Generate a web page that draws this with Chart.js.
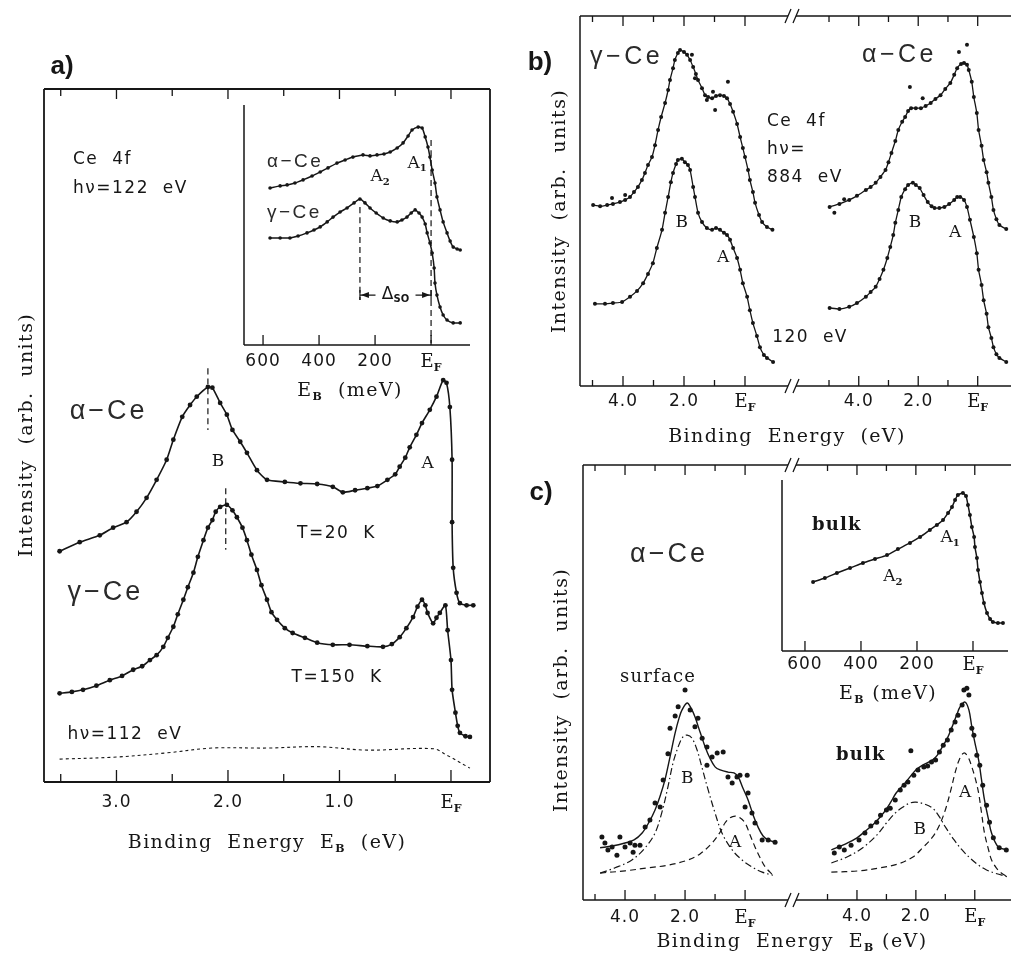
<!DOCTYPE html>
<html>
<head>
<meta charset="utf-8">
<title>Ce 4f photoemission spectra</title>
<script src="https://cdn.jsdelivr.net/npm/chart.js@4.4.1/dist/chart.umd.min.js"></script>
<style>
  body { margin: 0; background: #fff; }
  #page { position: relative; width: 1015px; height: 955px; background: #fff; }
  #page canvas { position: absolute; left: 0; top: 0; }
</style>
</head>
<body>
<div id="page">
  <canvas id="panelA" width="1015" height="955"></canvas>
  <canvas id="insetA" width="1015" height="955"></canvas>
  <canvas id="panelBL" width="1015" height="955"></canvas>
  <canvas id="panelBR" width="1015" height="955"></canvas>
  <canvas id="panelCL" width="1015" height="955"></canvas>
  <canvas id="panelCR" width="1015" height="955"></canvas>
  <canvas id="insetC" width="1015" height="955"></canvas>
</div>
<script>
// ---- panel a: Ce 4f, hv = 122 eV (binding energy in eV, intensity arb.)
const aAlphaE = [3.51,3.33,3.15,3.03,2.91,2.82,2.73,2.64,2.55,2.49,2.41,2.34,2.28,2.18,2.14,2.07,2.01,1.96,1.89,1.83,1.74,1.65,1.49,1.35,1.20,1.06,0.97,0.86,0.75,0.66,0.57,0.50,0.46,0.41,0.37,0.31,0.26,0.19,0.13,0.07,0.04,0.01,-0.01,-0.01,-0.02,-0.05,-0.08,-0.14,-0.20];
const aAlphaI = [33.3,34.6,35.6,36.7,37.5,39.0,41.0,43.6,46.5,49.4,52.7,54.4,55.6,57.0,56.9,54.7,53.0,50.8,49.1,47.5,45.0,43.6,43.3,43.1,43.0,42.6,41.8,42.1,42.4,42.7,43.6,44.4,45.5,46.8,48.3,50.1,51.8,53.7,55.6,58.0,57.6,54.1,46.5,37.5,30.9,27.3,25.8,25.5,25.5];
const aGammaE = [3.51,3.40,3.30,3.18,3.06,2.95,2.85,2.77,2.70,2.64,2.58,2.54,2.49,2.45,2.40,2.36,2.31,2.27,2.22,2.18,2.14,2.11,2.07,2.01,1.96,1.92,1.87,1.83,1.79,1.74,1.70,1.65,1.61,1.56,1.49,1.42,1.31,1.20,1.06,0.91,0.75,0.61,0.53,0.46,0.40,0.34,0.30,0.26,0.23,0.21,0.16,0.13,0.10,0.05,0.03,0.00,-0.01,-0.04,-0.06,-0.08,-0.13,-0.17];
const aGammaI = [12.8,13.0,13.3,13.9,14.7,15.3,16.2,16.7,17.6,18.3,19.5,20.8,22.4,24.2,26.3,28.1,30.2,32.5,34.9,36.7,37.8,39.0,39.7,40.0,39.2,38.2,36.7,34.9,32.8,30.6,28.4,26.3,24.5,23.4,22.2,21.5,20.8,20.1,19.8,19.8,19.6,19.5,19.9,20.9,22.2,23.8,25.3,26.3,25.5,24.4,22.9,23.7,24.4,25.5,21.9,17.6,13.3,10.0,8.1,7.1,6.6,6.5];
const aBgE = [3.51,3.00,2.55,2.14,1.65,1.20,0.75,0.16,0.04,-0.17];
const aBgI = [3.3,3.6,4.2,4.9,4.9,5.1,4.6,4.8,3.9,2.0];
const aPeakB = [2.18, 2.02];
const aTickMajor = [3, 2, 1, 0];
const aTickMinor = [3.5, 2.5, 1.5, 0.5];
const aTickText = ['3.0', '2.0', '1.0', 'E_F'];

// ---- panel a inset (binding energy in meV)
const iaAlphaE = [575,539,514,486,457,425,396,368,336,307,279,243,218,193,168,146,121,100,82,68,46,32,21,11,4,-4,-14,-21,-32,-43,-57,-68,-79,-93,-104];
const iaAlphaI = [65.4,66.3,66.7,67.5,68.8,70.4,72.1,73.8,75.8,77.1,78.3,79.2,78.8,79.2,79.6,80.4,82.1,84.2,87.1,89.6,90.8,90.4,86.7,82.5,78.3,72.9,67.5,61.7,56.3,51.3,46.7,43.3,40.8,40.0,39.6];
const iaGammaE = [575,539,504,475,443,418,396,371,350,325,300,275,254,236,218,196,171,146,121,104,86,71,57,43,32,21,14,4,-4,-11,-14,-21,-32,-43,-57,-79,-104];
const iaGammaI = [44.6,44.6,44.6,45.4,46.7,47.9,49.2,51.3,53.3,55.4,57.1,59.2,60.8,59.2,57.1,55.0,52.9,51.7,51.3,52.1,53.3,55.0,56.3,55.0,53.3,50.4,46.7,42.5,38.3,32.1,25.8,20.8,15.8,12.5,10.4,9.2,9.2];
const iaA2 = 254;
const iaTicks = [600, 400, 200, 0];
const iaTickText = ['600', '400', '200', 'E_F'];

// ---- panel b: gamma-Ce (left) and alpha-Ce (right), hv = 884 eV and 120 eV
const bGam884E = [4.98,4.75,4.52,4.33,4.10,3.93,3.77,3.64,3.51,3.38,3.28,3.18,3.05,2.95,2.85,2.75,2.62,2.52,2.46,2.36,2.30,2.20,2.13,2.00,1.90,1.80,1.70,1.61,1.54,1.41,1.31,1.21,1.08,0.95,0.82,0.69,0.59,0.49,0.39,0.26,0.16,0.07,0.00,-0.10,-0.16,-0.26,-0.33,-0.46,-0.56,-0.72,-0.90];
const bGam884I = [48.9,48.6,48.9,49.2,49.7,50.3,51.1,52.4,53.8,55.7,57.6,59.7,61.9,65.1,69.2,72.7,76.5,80.0,82.7,85.9,88.1,90.0,90.8,90.3,89.5,88.1,86.2,84.3,82.7,80.5,78.6,78.1,77.8,78.4,78.6,78.4,77.8,76.2,74.1,70.8,67.3,64.3,61.9,58.4,55.7,52.4,49.5,46.2,44.3,43.0,42.2];
const bGam884OffE = [4.36,3.93,1.74,1.64,1.25,1.05,0.98,0.56];
const bGam884OffI = [50.8,51.6,89.5,83.2,77.3,79.5,74.6,82.2];
const bGam120E = [4.92,4.59,4.33,4.03,3.77,3.54,3.34,3.18,3.02,2.89,2.72,2.62,2.52,2.43,2.36,2.26,2.20,2.07,1.97,1.87,1.80,1.70,1.64,1.54,1.41,1.25,1.08,0.95,0.82,0.69,0.59,0.49,0.39,0.26,0.16,0.07,-0.07,-0.16,-0.26,-0.39,-0.49,-0.62,-0.72,-0.92];
const bGam120I = [22.2,22.2,22.4,22.7,24.1,25.7,27.8,30.3,33.2,37.3,42.2,46.8,51.1,55.1,57.6,60.0,61.1,61.4,60.5,59.7,58.4,53.8,51.1,46.8,44.3,42.7,42.2,42.7,42.2,41.4,40.8,39.5,37.3,34.6,31.4,27.8,24.1,20.5,17.0,13.5,10.5,8.4,7.6,6.5];
const bAlp884E = [4.98,4.65,4.32,4.06,3.76,3.60,3.43,3.27,3.10,3.00,2.90,2.77,2.67,2.54,2.44,2.34,2.24,2.08,1.91,1.75,1.58,1.42,1.25,1.09,0.92,0.79,0.69,0.56,0.46,0.36,0.30,0.20,0.13,0.03,-0.03,-0.13,-0.20,-0.30,-0.36,-0.46,-0.53,-0.63,-0.73,-0.96];
const bAlp884I = [48.4,49.2,50.3,51.4,53.0,53.8,54.9,56.5,58.4,60.5,63.0,66.2,69.2,71.4,72.7,74.3,75.1,75.1,75.1,75.7,76.5,77.6,78.6,80.3,81.9,84.1,85.9,87.0,87.3,86.8,85.4,82.2,78.1,73.8,69.2,64.9,61.1,57.8,54.9,51.1,47.6,45.1,43.5,42.4];
const bAlp884OffE = [4.82,4.49,2.28,1.85,0.63,0.36];
const bAlp884OffI = [46.8,50.5,80.8,77.8,90.3,92.2];
const bAlp120E = [4.98,4.65,4.32,4.06,3.76,3.60,3.43,3.30,3.17,3.04,2.94,2.84,2.77,2.67,2.57,2.44,2.34,2.18,2.08,1.95,1.82,1.68,1.55,1.45,1.29,1.12,0.96,0.79,0.69,0.59,0.46,0.36,0.26,0.13,0.03,-0.03,-0.13,-0.20,-0.30,-0.36,-0.46,-0.53,-0.63,-0.73,-0.96];
const bAlp120I = [21.1,20.8,21.4,22.4,24.1,25.4,26.8,28.9,31.4,34.6,37.6,40.8,44.1,47.6,51.1,53.2,54.3,54.9,54.3,53.5,51.6,49.7,48.6,48.1,48.1,48.4,49.2,50.3,51.1,51.1,50.3,48.4,44.9,40.3,35.9,31.4,27.3,23.2,19.5,15.9,13.0,10.5,8.6,7.6,6.5];
const bTickMajor = [4, 2, 0];
const bTickMinor = [5, 3, 1];
const bTickText = ['4.0', '2.0', 'E_F'];

// ---- panel c: alpha-Ce surface (left) and bulk (right) decomposition
const cSurfDotE = [4.77,4.67,4.57,4.43,4.27,4.17,4.00,3.83,3.73,3.67,3.50,3.33,3.17,3.00,2.83,2.73,2.57,2.50,2.33,2.23,2.00,1.83,1.67,1.57,1.43,1.27,1.27,1.10,0.93,0.73,0.57,0.43,0.27,0.17,-0.07,-0.10,0.00,-0.23,-0.33,-0.57,-0.77,-1.00];
const cSurfDotI = [14.5,13.1,11.5,12.2,10.3,14.5,12.2,13.1,11.0,12.6,12.6,16.8,18.4,22.3,21.4,27.6,33.6,39.5,42.3,44.4,48.3,43.7,39.8,41.8,37.2,35.2,31.0,32.9,33.8,34.0,28.3,26.9,28.3,28.7,28.7,24.6,21.4,20.0,17.7,13.8,13.8,13.3];
const cSurfFitE = [4.83,4.43,4.00,3.70,3.43,3.20,3.00,2.83,2.67,2.50,2.33,2.20,2.10,1.93,1.80,1.67,1.50,1.33,1.17,1.00,0.83,0.57,0.37,0.23,0.07,-0.10,-0.27,-0.43,-0.60,-0.77,-1.00];
const cSurfFitI = [12.0,12.4,13.1,13.8,15.4,17.9,20.7,23.9,27.6,32.9,38.4,41.8,43.7,45.3,44.1,42.1,38.6,35.2,32.6,30.6,29.9,29.4,29.2,28.3,25.7,23.0,19.5,16.8,14.7,13.8,13.3];
const cSurfBE = [4.83,4.33,3.77,3.33,3.00,2.77,2.57,2.40,2.23,2.07,1.93,1.77,1.60,1.43,1.23,1.00,0.77,0.43,0.10,-0.23,-0.57,-0.93];
const cSurfBI = [6.2,7.4,9.2,12.0,15.4,20.2,26.0,31.5,35.2,37.5,37.9,37.2,34.5,30.3,25.3,20.0,15.4,11.5,9.2,7.6,6.4,5.7];
const cSurfAE = [4.83,4.00,3.23,2.57,1.90,1.50,1.10,0.83,0.67,0.50,0.33,0.17,0.00,-0.17,-0.33,-0.50,-0.67,-0.93];
const cSurfAI = [6.2,6.7,7.4,8.0,9.2,10.6,13.1,15.6,17.7,18.9,19.3,18.9,17.7,14.9,12.2,9.7,7.6,5.7];
const cBulkDotE = [4.77,4.60,4.43,4.20,3.93,3.73,3.53,3.33,3.20,3.00,2.87,2.70,2.53,2.40,2.17,2.27,2.07,1.93,1.73,1.60,1.47,1.33,1.20,1.07,0.93,0.80,0.67,0.57,0.43,0.37,0.27,0.20,0.10,0.03,-0.07,-0.17,-0.27,-0.40,-0.50,-0.63,-0.83,-1.07];
const cBulkDotI = [10.8,12.2,11.5,12.6,13.8,15.4,17.0,17.9,19.5,20.7,21.1,23.0,25.3,26.4,34.3,27.1,28.7,29.9,30.6,30.8,31.7,32.2,34.0,35.6,36.8,39.1,40.9,42.5,44.8,48.3,48.7,47.1,39.5,37.9,33.3,31.0,26.4,21.8,17.9,14.3,12.0,11.5];
const cBulkFitE = [4.87,4.33,4.00,3.67,3.37,3.10,2.87,2.67,2.43,2.20,2.00,1.77,1.43,1.27,1.10,0.93,0.77,0.60,0.50,0.33,0.20,0.10,0.00,-0.13,-0.23,-0.33,-0.47,-0.57,-0.80,-1.13];
const cBulkFitI = [11.5,13.1,14.3,16.1,17.9,20.0,22.3,24.6,26.4,28.3,29.9,31.0,32.2,33.3,35.2,37.2,39.8,42.8,44.4,45.5,43.7,39.8,36.3,32.2,27.6,23.0,18.4,15.4,12.2,11.5];
const cBulkBE = [4.87,4.27,3.77,3.33,3.00,2.70,2.43,2.20,2.00,1.73,1.43,1.20,1.00,0.70,0.43,0.17,-0.13,-0.40,-0.67,-1.13];
const cBulkBI = [8.5,10.1,12.2,14.9,17.7,20.0,21.4,22.3,22.5,22.1,21.1,19.1,16.8,13.8,11.5,9.7,8.0,6.9,6.2,5.3];
const cBulkAE = [4.87,3.93,3.20,2.60,2.10,1.77,1.43,1.20,1.00,0.83,0.67,0.53,0.37,0.23,0.10,-0.03,-0.13,-0.23,-0.33,-0.47,-0.57,-0.73,-0.90,-1.13];
const cBulkAI = [6.4,6.7,7.4,8.3,9.9,12.0,14.5,17.2,20.7,24.8,29.2,32.2,33.8,32.9,30.6,27.6,24.6,20.0,15.4,11.5,9.2,7.4,6.2,5.3];

// ---- panel c inset: bulk, meV scale
const icBulkE = [571,529,486,439,393,350,307,268,225,189,154,129,107,89,75,64,54,36,25,18,11,4,-4,-7,-14,-18,-25,-32,-39,-50,-61,-71,-89,-107];
const icBulkI = [40.4,42.7,45.6,48.5,51.5,53.8,56.1,59.6,63.2,66.7,70.8,73.7,76.6,80.7,84.2,88.3,91.2,92.4,90.6,85.4,79.5,72.5,66.7,60.8,54.4,47.4,40.4,33.9,28.1,22.2,18.7,17.0,16.4,16.4];

const W = 1015, H = 955;
const INK = '#161616';
const SERIF = '"DejaVu Serif", "Liberation Serif", serif';
const SANS = '"DejaVu Sans", "Liberation Sans", sans-serif';
const GREEK = '"Liberation Sans", "DejaVu Sans", sans-serif';

function pts(xs, ys) { return xs.map((v, i) => ({ x: v, y: ys[i] })); }
function curve(xs, ys, r, w) {
  return { data: pts(xs, ys), borderColor: INK, borderWidth: w || 1.5, pointRadius: r,
    pointBackgroundColor: INK, pointBorderWidth: 0, tension: 0.2, clip: false };
}
function dots(xs, ys, r) {
  return { data: pts(xs, ys), showLine: false, borderColor: INK, pointRadius: r,
    pointBackgroundColor: INK, pointBorderWidth: 0, clip: false };
}
function smooth(xs, ys, dash, w) {
  return { data: pts(xs, ys), borderColor: INK, borderWidth: w || 1.2, borderDash: dash || [],
    pointRadius: 0, tension: 0.35, clip: false };
}
function vline(x, y0, y1, dash) { return smooth([x, x], [y0, y1], dash, 1.2); }

// text with simple subscripts: "E_F", "Δ_{SO}"
function richText(ctx, str, x, y, size, family, o) {
  o = o || {};
  const segs = [];
  let i = 0;
  while (i < str.length) {
    if (str[i] === '_') {
      let s;
      if (str[i + 1] === '{') { const j = str.indexOf('}', i); s = str.slice(i + 2, j); i = j + 1; }
      else { s = str[i + 1]; i += 2; }
      segs.push({ t: s, sub: true });
    } else {
      let j = i;
      while (j < str.length && str[j] !== '_') j++;
      segs.push({ t: str.slice(i, j), sub: false });
      i = j;
    }
  }
  const weight = o.weight || 'normal';
  const fontOf = s => (s.sub ? 'bold' : weight) + ' ' + (s.sub ? Math.round(size * 0.6) : size) + 'px ' + family;
  ctx.save();
  ctx.letterSpacing = (o.spacing || 0) + 'px';
  let w = 0;
  segs.forEach(s => { ctx.font = fontOf(s); s.w = ctx.measureText(s.t).width; w += s.w; });
  ctx.translate(x, y);
  if (o.rotate) ctx.rotate(o.rotate);
  let cx = o.align === 'left' ? 0 : (o.align === 'right' ? -w : -w / 2);
  ctx.fillStyle = o.color || INK;
  ctx.textBaseline = 'middle';
  ctx.textAlign = 'left';
  segs.forEach(s => {
    ctx.font = fontOf(s);
    ctx.fillText(s.t, cx, s.sub ? size * 0.32 : 0);
    cx += s.w;
  });
  ctx.restore();
}

function arrowHead(ctx, x, y, dir) {
  ctx.beginPath();
  ctx.moveTo(x, y);
  ctx.lineTo(x - dir * 8, y - 3);
  ctx.lineTo(x - dir * 8, y + 3);
  ctx.closePath();
  ctx.fill();
}

// frame, inward ticks, axis breaks, tick labels and notes for the scanned-figure look
const sheet = {
  id: 'sheet',
  afterDatasetsDraw(chart, args, o) {
    const ctx = chart.ctx, a = chart.chartArea;
    const sx = chart.scales.x, sy = chart.scales.y;
    ctx.save();
    ctx.strokeStyle = INK;
    ctx.fillStyle = INK;
    ctx.lineWidth = o.frameWidth || 1.4;
    const sides = o.sides || '';
    ctx.beginPath();
    if (sides.includes('l')) { ctx.moveTo(a.left, a.top); ctx.lineTo(a.left, a.bottom); }
    if (sides.includes('r')) { ctx.moveTo(a.right, a.top); ctx.lineTo(a.right, a.bottom); }
    if (sides.includes('t')) { ctx.moveTo(a.left, a.top); ctx.lineTo(a.right, a.top); }
    if (sides.includes('b')) { ctx.moveTo(a.left, a.bottom); ctx.lineTo(a.right, a.bottom); }
    ctx.stroke();

    ctx.lineWidth = 1.3;
    ctx.beginPath();
    (o.ticks || []).forEach(([vals, len, where]) => vals.forEach(v => {
      const px = sx.getPixelForValue(v);
      if (where.includes('b')) { ctx.moveTo(px, a.bottom); ctx.lineTo(px, a.bottom - len); }
      if (where.includes('t')) { ctx.moveTo(px, a.top); ctx.lineTo(px, a.top + len); }
    }));
    (o.breaks || []).forEach(edge => {
      const px = edge === 'r' ? a.right : a.left;
      [a.top, a.bottom].forEach(py => { ctx.moveTo(px - 3, py + 7); ctx.lineTo(px + 3, py - 7); });
    });
    ctx.stroke();

    if (o.tickLabels) {
      const [vals, texts, dy] = o.tickLabels;
      vals.forEach((v, i) => {
        const t = texts[i];
        const num = /^[0-9.]+$/.test(t);
        richText(ctx, t, sx.getPixelForValue(v), a.bottom + dy, num ? 17 : 18, num ? SANS : SERIF,
          { spacing: num ? 1 : 0 });
      });
    }

    if (o.span) {
      const s = o.span;
      const x1 = sx.getPixelForValue(s.x1), x2 = sx.getPixelForValue(s.x2), py = sy.getPixelForValue(s.y);
      const mid = (x1 + x2) / 2;
      ctx.lineWidth = 1.2;
      ctx.beginPath();
      ctx.moveTo(x1, py - 5); ctx.lineTo(x1, py + 5);
      ctx.moveTo(x2, py - 5); ctx.lineTo(x2, py + 5);
      ctx.moveTo(x1, py); ctx.lineTo(mid - 20, py);
      ctx.moveTo(mid + 20, py); ctx.lineTo(x2, py);
      ctx.stroke();
      arrowHead(ctx, x1 + 1, py, -1);
      arrowHead(ctx, x2 - 1, py, 1);
      richText(ctx, s.label, mid, py - 1, 17, SANS, {});
    }

    (o.notes || []).forEach(n => {
      const px = n.x !== undefined ? sx.getPixelForValue(n.x) : n.px;
      const py = n.y !== undefined ? sy.getPixelForValue(n.y) : n.py;
      richText(ctx, n.t, px, py, n.size || 17, n.font || SERIF, n);
    });
    ctx.restore();
  }
};

function build(id, area, range, datasets, sheetOpts) {
  return new Chart(document.getElementById(id), {
    type: 'line',
    data: { datasets },
    options: {
      responsive: false, animation: false, devicePixelRatio: 1, events: [],
      layout: { padding: { left: area[0], top: area[1], right: W - area[2], bottom: H - area[3] } },
      scales: {
        x: { type: 'linear', reverse: true, min: range[0], max: range[1], display: false },
        y: { type: 'linear', min: 0, max: 100, display: false }
      },
      plugins: { legend: { display: false }, tooltip: { enabled: false }, sheet: sheetOpts }
    },
    plugins: [sheet]
  });
}

const DASH = [6, 4];
const DASHDOT = [7, 3, 1.5, 3];
const ROT = -Math.PI / 2;
const titleOpts = { font: SERIF, size: 19, spacing: 1.4 };
const noteSans = { font: SANS, size: 17, spacing: 1.5, align: 'left' };
const greek = (size, sp) => ({ font: GREEK, size: size, spacing: sp, align: 'left', color: '#2a2a2a' });

// panel a
build('panelA', [44, 89, 490, 782], [-0.35, 3.65], [
  curve(aAlphaE, aAlphaI, 2.4, 1.6),
  curve(aGammaE, aGammaI, 2.4, 1.6),
  smooth(aBgE, aBgI, [3, 3], 1.1),
  vline(aPeakB[0], 59.7, 50.8, DASH),
  vline(aPeakB[1], 42.4, 33.5, DASH)
], {
  sides: 'ltrb', frameWidth: 1.8,
  ticks: [[aTickMajor, 12, 'b'], [aTickMinor, 8, 'b'], [aTickMajor, 10, 't'], [aTickMinor, 7, 't']],
  tickLabels: [aTickMajor, aTickText, 21],
  notes: [
    Object.assign({ t: 'Ce  4f', x: 3.39, y: 89.8 }, noteSans),
    Object.assign({ t: 'hν=122  eV', x: 3.39, y: 85.7 }, noteSans),
    Object.assign({ t: 'α−Ce', x: 3.42, y: 53.4 }, greek(27, 3)),
    { t: 'B', x: 2.09, y: 46.2 },
    { t: 'A', x: 0.21, y: 46.0 },
    Object.assign({ t: 'T=20  K', x: 1.38, y: 35.9 }, noteSans),
    Object.assign({ t: 'γ−Ce', x: 3.44, y: 27.4 }, greek(27, 3)),
    Object.assign({ t: 'T=150  K', x: 1.43, y: 15.0 }, noteSans),
    Object.assign({ t: 'hν=112  eV', x: 3.44, y: 6.8 }, noteSans),
    Object.assign({ t: 'Binding  Energy  E_B  (eV)', px: 267, py: 843 }, titleOpts),
    Object.assign({ t: 'Intensity  (arb.  units)', px: 27, py: 435, rotate: ROT }, titleOpts),
    { t: 'a)', px: 62, py: 67, font: '"Liberation Sans", sans-serif', size: 26, weight: 'bold' }
  ]
});

// panel a inset
build('insetA', [244, 105, 470, 345], [-139, 668], [
  curve(iaAlphaE, iaAlphaI, 1.8, 1.5),
  curve(iaGammaE, iaGammaI, 1.8, 1.5),
  vline(iaA2, 57.5, 18.8, DASH),
  vline(0, 85.4, 0.8, DASH)
], {
  sides: 'lb', frameWidth: 1.5,
  ticks: [[iaTicks, 10, 'b']],
  tickLabels: [iaTicks, iaTickText, 17],
  span: { x1: iaA2, x2: 0, y: 20.8, label: 'Δ_{SO}' },
  notes: [
    Object.assign({ t: 'α−Ce', x: 586, y: 76.3 }, greek(19, 2.5)),
    Object.assign({ t: 'γ−Ce', x: 586, y: 55.0 }, greek(19, 2.5)),
    { t: 'A_1', x: 50, y: 75.8 },
    { t: 'A_2', x: 182, y: 70.0 },
    Object.assign({ t: 'E_B  (meV)', px: 350, py: 391 }, titleOpts)
  ]
});

// panel b left: gamma-Ce
build('panelBL', [580, 16, 788, 386], [-1.41, 5.41], [
  curve(bGam884E, bGam884I, 2, 1.3),
  dots(bGam884OffE, bGam884OffI, 2),
  curve(bGam120E, bGam120I, 2, 1.3)
], {
  sides: 'ltb', frameWidth: 1.5, breaks: ['r'],
  ticks: [[bTickMajor, 10, 'bt'], [bTickMinor, 6, 'bt']],
  tickLabels: [bTickMajor, bTickText, 16],
  notes: [
    Object.assign({ t: 'γ−Ce', x: 5.08, y: 88.9 }, greek(25, 3.5)),
    { t: 'B', x: 2.07, y: 44.1 },
    { t: 'A', x: 0.72, y: 34.6 },
    Object.assign({ t: 'Ce  4f', x: -0.72, y: 71.4 }, noteSans),
    Object.assign({ t: 'hν=', x: -0.72, y: 63.8 }, noteSans),
    Object.assign({ t: '884  eV', x: -0.72, y: 56.2 }, noteSans),
    Object.assign({ t: '120  eV', x: -0.89, y: 13.0 }, noteSans),
    Object.assign({ t: 'Binding  Energy  (eV)', px: 787, py: 437 }, titleOpts),
    Object.assign({ t: 'Intensity  (arb.  units)', px: 560, py: 211, rotate: ROT }, titleOpts),
    { t: 'b)', px: 540, py: 63, font: '"Liberation Sans", sans-serif', size: 26, weight: 'bold' }
  ]
});

// panel b right: alpha-Ce
build('panelBR', [796, 16, 1015, 386], [-1.12, 6.11], [
  curve(bAlp884E, bAlp884I, 2, 1.3),
  dots(bAlp884OffE, bAlp884OffI, 2),
  curve(bAlp120E, bAlp120I, 2, 1.3)
], {
  sides: 'tb', frameWidth: 1.5, breaks: ['l'],
  ticks: [[bTickMajor, 10, 'bt'], [bTickMinor, 6, 'bt']],
  tickLabels: [bTickMajor, bTickText, 16],
  notes: [
    Object.assign({ t: 'α−Ce', x: 3.89, y: 89.5 }, greek(25, 3.5)),
    { t: 'B', x: 2.11, y: 44.3 },
    { t: 'A', x: 0.76, y: 41.4 }
  ]
});

// panel c left: surface
build('panelCL', [583, 465, 788, 900], [-1.43, 5.4], [
  dots(cSurfDotE, cSurfDotI, 2.5),
  smooth(cSurfFitE, cSurfFitI, [], 1.4),
  smooth(cSurfBE, cSurfBI, DASHDOT, 1.2),
  smooth(cSurfAE, cSurfAI, DASH, 1.2)
], {
  sides: 'ltb', frameWidth: 1.5, breaks: ['r'],
  ticks: [[bTickMajor, 10, 'bt'], [bTickMinor, 6, 'bt']],
  tickLabels: [bTickMajor, bTickText, 18],
  notes: [
    Object.assign({ t: 'α−Ce', x: 3.83, y: 79.3 }, greek(27, 3)),
    { t: 'surface', x: 2.9, y: 51.3, size: 18, spacing: 1.2 },
    { t: 'B', x: 1.93, y: 28.0 },
    { t: 'A', x: 0.33, y: 13.1 },
    Object.assign({ t: 'Binding  Energy  E_B (eV)', px: 792, py: 942 }, titleOpts),
    Object.assign({ t: 'Intensity  (arb.  units)', px: 562, py: 690, rotate: ROT }, titleOpts),
    { t: 'c)', px: 541, py: 493, font: '"Liberation Sans", sans-serif', size: 26, weight: 'bold' }
  ]
});

// panel c right: bulk
build('panelCR', [796, 465, 1015, 900], [-1.23, 6.07], [
  dots(cBulkDotE, cBulkDotI, 2.5),
  smooth(cBulkFitE, cBulkFitI, [], 1.4),
  smooth(cBulkBE, cBulkBI, DASHDOT, 1.2),
  smooth(cBulkAE, cBulkAI, DASH, 1.2)
], {
  sides: 'tb', frameWidth: 1.5, breaks: ['l'],
  ticks: [[bTickMajor, 10, 'bt'], [bTickMinor, 6, 'bt']],
  tickLabels: [bTickMajor, bTickText, 17],
  notes: [
    { t: 'bulk', x: 3.87, y: 33.3, size: 18, spacing: 1.2, weight: 'bold' },
    { t: 'B', x: 1.87, y: 16.1 },
    { t: 'A', x: 0.33, y: 24.6 }
  ]
});

// panel c inset: bulk, meV
build('insetC', [782, 480, 1008, 651], [-125, 682], [
  curve(icBulkE, icBulkI, 2, 1.5)
], {
  sides: 'lb', frameWidth: 1.5,
  ticks: [[iaTicks, 10, 'b']],
  tickLabels: [iaTicks, iaTickText, 14],
  notes: [
    { t: 'bulk', x: 486, y: 73.7, size: 18, spacing: 1.2, weight: 'bold' },
    { t: 'A_1', x: 82, y: 66.1 },
    { t: 'A_2', x: 286, y: 43.3 },
    Object.assign({ t: 'E_B (meV)', px: 888, py: 694 }, titleOpts)
  ]
});
</script>
</body>
</html>
